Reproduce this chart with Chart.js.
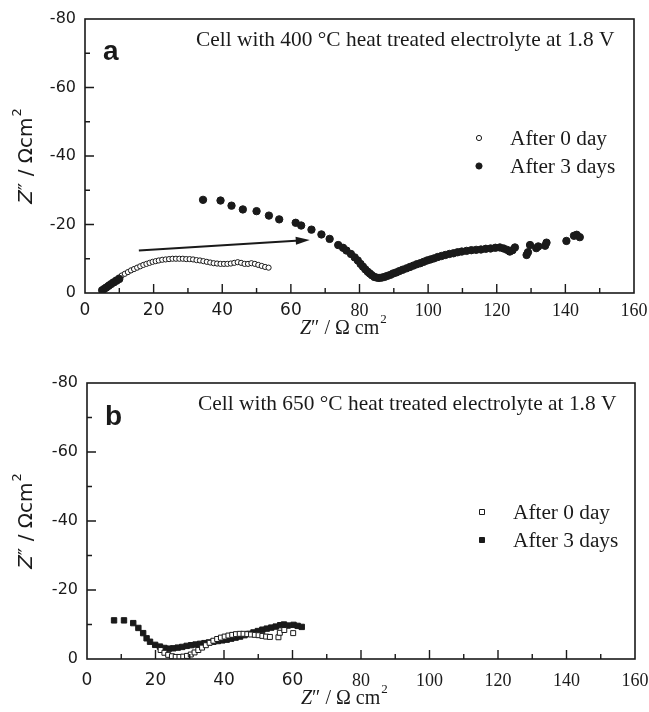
<!DOCTYPE html>
<html>
<head>
<meta charset="utf-8">
<script src="https://cdn.jsdelivr.net/npm/chart.js@4.4.0/dist/chart.umd.min.js"></script>
<style>
  body { margin: 0; background: #fff; width: 649px; height: 712px; overflow: hidden; position: relative; }
  .panel { position: absolute; left: 0; width: 649px; }
  #panelA { top: 0; height: 340px; }
  #panelB { top: 340px; height: 372px; }
</style>
</head>
<body>
<div class="panel" id="panelA"><canvas id="chartA"></canvas></div>
<div class="panel" id="panelB"><canvas id="chartB"></canvas></div>
<script>
// Axis ranges and tick labels (same for both panels)
const xTicks = [0, 20, 40, 60, 80, 100, 120, 140, 160];
const yTicks = [-80, -60, -40, -20, 0];
const seriesLabels = ['After 0 day', 'After 3 days'];

// Panel a: cell with 400 °C heat treated electrolyte  [Z', Z'']
const a0day = [[5.3,-1.2],[6.2,-1.9],[7.1,-2.6],[8,-3.3],[8.9,-3.9],[9.8,-4.5],[10.7,-5.1],[11.6,-5.6],
  [12.5,-6.1],[13.4,-6.6],[14.3,-7],[15.2,-7.4],[16.1,-7.8],[17,-8.2],[17.9,-8.5],[18.8,-8.8],[19.7,-9.1],
  [20.6,-9.3],[21.5,-9.5],[22.5,-9.7],[23.5,-9.8],[24.5,-9.9],[25.5,-10],[26.5,-10],[27.5,-10],[28.5,-10],
  [29.5,-9.9],[30.5,-9.9],[31.5,-9.8],[32.5,-9.6],[33.5,-9.5],[34.5,-9.3],[35.5,-9.1],[36.5,-8.9],[37.5,-8.7],
  [38.5,-8.6],[39.5,-8.5],[40.5,-8.5],[41.5,-8.5],[42.5,-8.6],[43.5,-8.8],[44.5,-9],[45.5,-8.8],[46.5,-8.5],
  [47.5,-8.5],[48.5,-8.7],[49.5,-8.5],[50.5,-8.2],[51.5,-7.9],[52.5,-7.6],[53.5,-7.4]];
const a3days = [[5,-0.8],[5.6,-1.2],[6.2,-1.6],[6.9,-2.1],[7.6,-2.6],[8.4,-3.1],[9.2,-3.6],[10,-4.1],
  [34.4,-27.2],[39.5,-27],[42.7,-25.5],[46,-24.4],[50,-23.9],[53.6,-22.6],[56.6,-21.5],[61.4,-20.5],
  [63,-19.7],[66,-18.5],[68.9,-17.1],[71.3,-15.8],[73.8,-14],[75.2,-13.2],[76.2,-12.4],[77.5,-11.4],
  [78.6,-10.4],[79.5,-9.5],[80.3,-8.5],[81,-7.7],[81.7,-6.9],[82.4,-6.2],[83,-5.7],[83.6,-5.2],[84.3,-4.7],
  [85,-4.5],[85.7,-4.4],[86.5,-4.5],[87.3,-4.7],[88.1,-5],[89,-5.3],[89.8,-5.7],[90.7,-6],[91.6,-6.4],
  [92.6,-6.8],[93.7,-7.2],[94.7,-7.6],[95.7,-8],[96.7,-8.4],[97.7,-8.7],[98.7,-9.1],[99.7,-9.5],[100.7,-9.8],
  [101.7,-10.1],[102.8,-10.5],[103.9,-10.8],[105,-11.1],[106.2,-11.4],[107.4,-11.6],[108.6,-11.9],
  [109.8,-12.1],[111.2,-12.3],[112.6,-12.5],[114,-12.6],[115.4,-12.7],[116.8,-12.9],[118.2,-13],
  [119.6,-13.2],[120.9,-13.3],[122,-13],[123,-12.6],[123.8,-12.1],[124.6,-12.5],[125.3,-13.3],
  [128.7,-11.1],[129.1,-11.9],[129.7,-14],[131.5,-13.1],[132.1,-13.6],[134.1,-13.8],[134.5,-14.7],
  [140.3,-15.2],[142.5,-16.7],[143.3,-17],[144.2,-16.3]];
// arrow from the first arc to the shifted spectrum (data units)
const arrowA = [[15.7,-12.4],[65.5,-15.5]];

// Panel b: cell with 650 °C heat treated electrolyte
const b0day = [[21.5,-2.6],[22.6,-1.8],[23.7,-1.2],[24.8,-0.8],[25.9,-0.6],[27,-0.6],[28.1,-0.7],[29.2,-0.9],
  [30.3,-1.3],[31.4,-1.9],[32.5,-2.6],[33.6,-3.3],[34.7,-4],[35.8,-4.7],[36.9,-5.3],[38,-5.8],[39.1,-6.2],
  [40.2,-6.5],[41.3,-6.8],[42.4,-7],[43.5,-7.2],[44.6,-7.3],[45.7,-7.3],[46.8,-7.2],[47.9,-7.1],[49,-7],
  [50.1,-6.9],[51.2,-6.7],[52.3,-6.5],[53.4,-6.4],[55.9,-6.3],[56.3,-7.6],[57.6,-8.4],[60.2,-7.5]];
const b3days = [[7.9,-11.2],[10.8,-11.2],[13.5,-10.4],[15,-9],[16.4,-7.5],[17.4,-6],[18.4,-5],[19.9,-4.1],
  [21.3,-3.6],[22.6,-3.2],[23.9,-3],[25.2,-3.1],[26.5,-3.3],[27.8,-3.5],[29.1,-3.8],[30.4,-4],[31.7,-4.2],
  [33,-4.4],[34.3,-4.6],[35.6,-4.8],[36.9,-5],[38.2,-5.2],[39.5,-5.4],[40.8,-5.6],[42.1,-5.9],[43.4,-6.2],
  [44.7,-6.5],[46,-6.9],[47.3,-7.3],[48.6,-7.7],[49.9,-8.1],[51.2,-8.5],[52.5,-8.8],[53.8,-9.1],[55.1,-9.4],
  [56.4,-9.8],[57.5,-10],[58.6,-9.7],[60.3,-9.9],[61.5,-9.6],[62.7,-9.3]];

const SANS = '"DejaVu Sans", sans-serif';
const SERIF = '"Liberation Serif", "Times New Roman", serif';
const INK = '#1a1a1a';

function toXY(list) {
  return list.map(p => ({ x: p[0], y: p[1] }));
}

// frame, inward ticks, captions, legend and axis titles
const decorations = {
  id: 'decorations',
  afterDraw(chart, args, o) {
    const ctx = chart.ctx;
    const a = chart.chartArea;
    const xs = chart.scales.x, ys = chart.scales.y;
    ctx.save();

    // arrow
    if (o.arrow) {
      const x1 = xs.getPixelForValue(o.arrow[0][0]), y1 = ys.getPixelForValue(o.arrow[0][1]);
      const x2 = xs.getPixelForValue(o.arrow[1][0]), y2 = ys.getPixelForValue(o.arrow[1][1]);
      const ang = Math.atan2(y2 - y1, x2 - x1);
      ctx.strokeStyle = INK; ctx.fillStyle = INK; ctx.lineWidth = 2;
      ctx.beginPath(); ctx.moveTo(x1, y1); ctx.lineTo(x2 - 10 * Math.cos(ang), y2 - 10 * Math.sin(ang)); ctx.stroke();
      ctx.beginPath();
      ctx.moveTo(x2, y2);
      ctx.lineTo(x2 - 14 * Math.cos(ang) + 4 * Math.sin(ang), y2 - 14 * Math.sin(ang) - 4 * Math.cos(ang));
      ctx.lineTo(x2 - 14 * Math.cos(ang) - 4 * Math.sin(ang), y2 - 14 * Math.sin(ang) + 4 * Math.cos(ang));
      ctx.closePath(); ctx.fill();
    }

    // frame
    ctx.strokeStyle = INK; ctx.lineWidth = 1.6;
    ctx.strokeRect(a.left, a.top, a.right - a.left, a.bottom - a.top);

    // inward ticks
    ctx.lineWidth = 1.4;
    ctx.beginPath();
    xs.ticks.forEach(t => {
      if (t.value <= xs.min || t.value >= xs.max) return;
      const px = xs.getPixelForValue(t.value);
      const len = t.value % 20 === 0 ? 9 : 5;
      ctx.moveTo(px, a.bottom); ctx.lineTo(px, a.bottom - len);
    });
    ys.ticks.forEach(t => {
      if (t.value <= ys.min || t.value >= ys.max) return;
      const py = ys.getPixelForValue(t.value);
      const len = t.value % 20 === 0 ? 9 : 5;
      ctx.moveTo(a.left, py); ctx.lineTo(a.left + len, py);
    });
    ctx.stroke();

    // panel letter and caption
    ctx.fillStyle = INK;
    ctx.textBaseline = 'alphabetic';
    ctx.textAlign = 'left';
    ctx.font = 'bold 28px "Liberation Sans", Arial, sans-serif';
    ctx.fillText(o.letter, a.left + 18, a.top + o.letterDy);
    ctx.font = '21.4px ' + SERIF;
    ctx.fillText(o.caption, a.left + 111, a.top + 27);

    // legend
    chart.data.datasets.forEach((ds, i) => {
      const ly = a.top + o.legendTop + i * 28;
      const mx = o.legendX;
      ctx.lineWidth = 1;
      ctx.strokeStyle = INK;
      ctx.fillStyle = ds.backgroundColor;
      ctx.beginPath();
      if (ds.pointStyle === 'rect') {
        ctx.rect(mx - 2.5, ly - 2.5, 5, 5);
      } else {
        ctx.arc(mx, ly, i === 0 ? 2.6 : 3.1, 0, Math.PI * 2);
      }
      ctx.fill(); ctx.stroke();
      ctx.fillStyle = INK;
      ctx.font = '21.3px ' + SERIF;
      ctx.textBaseline = 'middle';
      ctx.fillText(ds.label, mx + 31, ly + 1);
    });

    // x axis title: Z″ / Ω cm²
    ctx.textBaseline = 'alphabetic';
    let tx = o.xTitleX, ty = o.xTitleY;
    ctx.font = 'italic 20px ' + SERIF;
    ctx.fillText('Z', tx, ty); tx += ctx.measureText('Z').width;
    ctx.font = '20px ' + SERIF;
    ctx.fillText('\u2033 / \u03A9 cm', tx, ty); tx += ctx.measureText('\u2033 / \u03A9 cm').width + 1;
    ctx.font = '13px ' + SERIF;
    ctx.fillText('2', tx, ty - 11);

    // y axis title, rotated
    ctx.translate(32, (a.top + a.bottom) / 2);
    ctx.rotate(-Math.PI / 2);
    const fs = 20;
    ctx.font = 'italic ' + fs + 'px ' + SANS;
    const p1 = 'Z', p2 = '\u2033 / \u03A9cm', p3 = '2';
    const w1 = ctx.measureText(p1).width;
    ctx.font = fs + 'px ' + SANS;
    const w2 = ctx.measureText(p2).width;
    ctx.font = '13px ' + SANS;
    const w3 = ctx.measureText(p3).width;
    let rx = -(w1 + w2 + w3 + 1) / 2;
    ctx.font = 'italic ' + fs + 'px ' + SANS; ctx.fillText(p1, rx, 0); rx += w1;
    ctx.font = fs + 'px ' + SANS; ctx.fillText(p2, rx, 0); rx += w2 + 1;
    ctx.font = '13px ' + SANS; ctx.fillText(p3, rx, -11);
    ctx.restore();
  }
};

function makePanel(id, cfg) {
  return new Chart(document.getElementById(id), {
    type: 'scatter',
    data: {
      datasets: [
        { label: seriesLabels[0], data: toXY(cfg.d0), pointStyle: cfg.style, pointRadius: cfg.r0,
          backgroundColor: '#fff', borderColor: INK, borderWidth: 1, order: cfg.order0 },
        { label: seriesLabels[1], data: toXY(cfg.d3), pointStyle: cfg.style, pointRadius: cfg.r3,
          backgroundColor: INK, borderColor: INK, borderWidth: 1, order: cfg.order3 }
      ]
    },
    options: {
      responsive: true,
      maintainAspectRatio: false,
      animation: false,
      layout: { padding: { left: 0, right: cfg.padRight, top: cfg.padTop, bottom: 0 } },
      plugins: {
        legend: { display: false },
        tooltip: { enabled: false },
        decorations: cfg.deco
      },
      scales: {
        x: {
          type: 'linear', min: 0, max: 160,
          grid: { display: false, drawTicks: false },
          border: { display: false },
          afterFit: s => { s.height = cfg.xAxisH; s.paddingLeft = 0; s.paddingRight = 0; },
          afterBuildTicks: s => { s.ticks = []; for (let v = 0; v <= 160; v += 10) s.ticks.push({ value: v }); },
          ticks: {
            padding: cfg.xPad, color: INK, maxRotation: 0, autoSkip: false,
            callback: v => xTicks.includes(v) ? String(v) : '',
            font: c => (c.tick && c.tick.value >= 70) ? { family: SERIF, size: 18 } : { family: SANS, size: 17 }
          }
        },
        y: {
          type: 'linear', min: -80, max: 0, reverse: true,
          grid: { display: false, drawTicks: false },
          border: { display: false },
          afterFit: s => { s.width = cfg.yAxisW; s.paddingTop = 0; s.paddingBottom = 0; },
          afterBuildTicks: s => { s.ticks = []; for (let v = -80; v <= 0; v += 10) s.ticks.push({ value: v }); },
          ticks: {
            padding: 9, color: INK, autoSkip: false,
            callback: v => yTicks.includes(v) ? String(v) : '',
            font: { family: SANS, size: 16 }
          }
        }
      }
    },
    plugins: [decorations]
  });
}

makePanel('chartA', {
  d0: a0day, d3: a3days, style: 'circle', r0: 2.6, r3: 3.7, order0: 2, order3: 1,
  padRight: 15, padTop: 19, xAxisH: 47, yAxisW: 85, xPad: 7,
  deco: { letter: 'a', letterDy: 41, caption: 'Cell with 400 \u00B0C heat treated electrolyte at 1.8 V',
          legendX: 479, legendTop: 119, arrow: arrowA, xTitleX: 300, xTitleY: 334 }
});

makePanel('chartB', {
  d0: b0day, d3: b3days, style: 'rect', r0: 3.5, r3: 3.8, order0: 1, order3: 2,
  padRight: 14, padTop: 43, xAxisH: 53, yAxisW: 87, xPad: 11,
  deco: { letter: 'b', letterDy: 42, caption: 'Cell with 650 \u00B0C heat treated electrolyte at 1.8 V',
          legendX: 482, legendTop: 129, arrow: null, xTitleX: 301, xTitleY: 364 }
});
</script>
</body>
</html>
